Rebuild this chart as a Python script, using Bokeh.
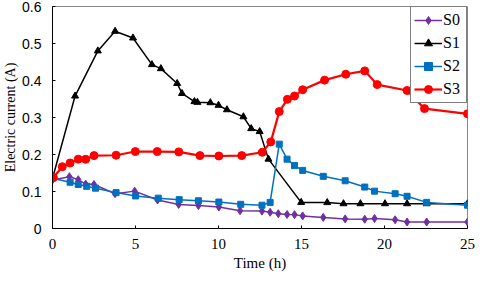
from bokeh.plotting import figure
from bokeh.models import FixedTicker, Legend, LegendItem, Range1d, PrintfTickFormatter
from bokeh.embed import file_html
from bokeh.resources import INLINE

# ---- data ----
s0_t = [0, 1.02, 1.55, 2.0, 2.5, 3.77, 4.95, 6.33, 7.6, 8.79, 10.02, 11.3, 12.62, 13.11,
        13.6, 14.13, 14.58, 15.07, 16.31, 17.63, 18.81, 19.4, 20.64, 21.36, 22.54, 25]
s0_v = [0.131, 0.140, 0.132, 0.120, 0.119, 0.094, 0.101, 0.077, 0.065, 0.062, 0.058, 0.048,
        0.047, 0.044, 0.040, 0.038, 0.0375, 0.034, 0.030, 0.026, 0.025, 0.027, 0.0235,
        0.0175, 0.0175, 0.0175]

s1_t = [0, 1.36, 2.73, 3.77, 4.85, 5.99, 6.53, 7.51, 7.8, 8.55, 8.73, 9.51, 10.0, 10.51,
        11.5, 11.97, 12.48, 13.01, 14.98, 16.55, 17.53, 18.55, 20.03, 21.36, 22.54, 25]
s1_v = [0.135, 0.358, 0.480, 0.533, 0.515, 0.443, 0.432, 0.392, 0.365, 0.343, 0.341, 0.340,
        0.333, 0.321, 0.302, 0.270, 0.262, 0.1875, 0.0706, 0.070, 0.067, 0.067, 0.067,
        0.067, 0.067, 0.067]

s2_t = [0, 1.06, 1.55, 2.06, 2.59, 3.83, 5.01, 6.37, 7.63, 8.79, 10.02, 11.34, 12.62, 13.11,
        13.66, 14.13, 14.58, 15.07, 16.31, 17.63, 18.81, 19.4, 20.64, 21.36, 22.54, 25]
s2_v = [0.136, 0.125, 0.119, 0.114, 0.109, 0.097, 0.088, 0.082, 0.078, 0.075, 0.0715, 0.0654,
        0.063, 0.0706, 0.228, 0.1875, 0.170, 0.157, 0.141, 0.129, 0.112, 0.101, 0.094, 0.087,
        0.0706, 0.063]

s3_t = [0.05, 0.59, 1.06, 1.55, 2.0, 2.5, 3.83, 4.99, 6.31, 7.61, 8.88, 10.02, 11.4, 12.64,
        13.15, 13.66, 14.15, 14.58, 15.07, 16.39, 17.67, 18.81, 19.56, 21.36, 22.41, 25]
s3_v = [0.138, 0.167, 0.177, 0.1875, 0.187, 0.197, 0.198, 0.208, 0.208, 0.207, 0.197, 0.196,
        0.197, 0.206, 0.234, 0.316, 0.349, 0.358, 0.375, 0.401, 0.417, 0.426, 0.389, 0.373,
        0.324, 0.310]

x_ticks = [0, 5, 10, 15, 20, 25]
y_ticks = [0, 0.1, 0.2, 0.3, 0.4, 0.5, 0.6]
series_names = ["S0", "S1", "S2", "S3"]
colors = ["#7030A0", "#000000", "#0070C0", "#FF0000"]

p = figure(width=476, height=274, output_backend="svg", toolbar_location=None,
           x_range=Range1d(0, 25), y_range=Range1d(0, 0.6),
           min_border_left=43, min_border_right=9, min_border_top=6, min_border_bottom=46)
p.xgrid.visible = False
p.ygrid.visible = False
p.outline_line_color = "#888888"
p.outline_line_width = 1
p.background_fill_color = "white"
p.border_fill_color = "white"

serif = "Liberation Serif"

for ax in (p.xaxis[0], p.yaxis[0]):
    ax.axis_line_color = "black"
    ax.axis_line_width = 1
    ax.major_tick_in = 3
    ax.major_tick_out = 0
    ax.minor_tick_in = 0
    ax.minor_tick_out = 0
    ax.major_tick_line_color = "black"
    ax.axis_label_text_font_style = "normal"
    ax.axis_label_text_color = "black"
    ax.major_label_text_color = "black"

p.xaxis.ticker = FixedTicker(ticks=x_ticks)
p.xaxis.major_label_text_font = serif
p.xaxis.major_label_text_font_size = "15px"
p.xaxis.major_label_standoff = 10
p.xaxis.axis_label = "Time (h)"
p.xaxis.axis_label_text_font = serif
p.xaxis.axis_label_text_font_size = "15px"
p.xaxis.axis_label_standoff = 3

p.yaxis.ticker = FixedTicker(ticks=y_ticks)
p.yaxis.formatter = PrintfTickFormatter(format="%.1f")
p.yaxis.major_label_overrides = {0: "0"}
p.yaxis.major_label_text_font = "Liberation Sans"
p.yaxis.major_label_text_font_size = "14px"
p.yaxis.major_label_standoff = 11
p.yaxis.axis_label = "Electric current (A)"
p.yaxis.axis_label_text_font = serif
p.yaxis.axis_label_text_font_size = "14px"
p.yaxis.axis_label_standoff = 1

items = []
l0 = p.line(s0_t, s0_v, color=colors[0], line_width=1.5)
m0 = p.scatter(s0_t, s0_v, marker="diamond", size=8, color=colors[0])
l1 = p.line(s1_t, s1_v, color=colors[1], line_width=1.5)
m1 = p.scatter(s1_t, s1_v, marker="triangle", size=7, color=colors[1])
l2 = p.line(s2_t, s2_v, color=colors[2], line_width=1.5)
m2 = p.scatter(s2_t, s2_v, marker="square", size=6, color=colors[2])
l3 = p.line(s3_t, s3_v, color=colors[3], line_width=2.2)
m3 = p.scatter(s3_t, s3_v, marker="circle", size=8, color=colors[3])

for name, rs in zip(series_names, [(l0, m0), (l1, m1), (l2, m2), (l3, m3)]):
    items.append(LegendItem(label=name, renderers=list(rs)))

legend = Legend(items=items, location="top_right")
legend.margin = 0
legend.padding = 3
legend.spacing = 3
legend.glyph_width = 28
legend.glyph_height = 20
legend.label_height = 20
legend.label_standoff = 1
legend.label_text_font = serif
legend.label_text_font_size = "16px"
legend.label_text_color = "black"
legend.border_line_color = "black"
legend.border_line_width = 1
legend.background_fill_alpha = 1
p.add_layout(legend)

open("out.html", "w").write(file_html(p, INLINE))
